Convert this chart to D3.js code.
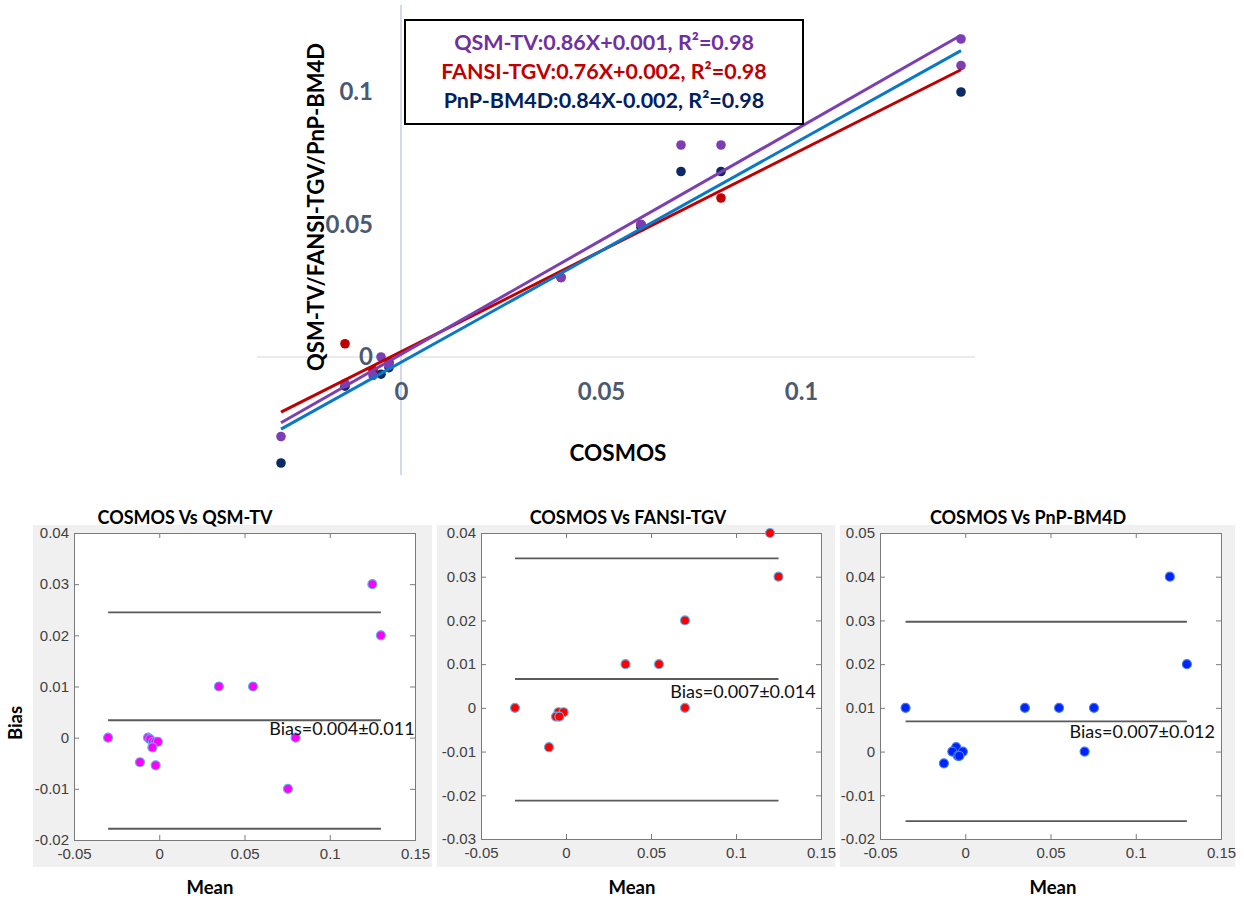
<!DOCTYPE html>
<html>
<head>
<meta charset="utf-8">
<script src="https://cdn.jsdelivr.net/npm/d3@7"></script>
<style>
  body { margin: 0; background: #fff; }
  text { font-family: Lato, "Open Sans", sans-serif; }
  .tick text { font-family: "Liberation Sans", Arial, sans-serif; }
</style>
</head>
<body>
<div id="container"></div>
<script>
/* regressão: métodos, declives, interceptos */
const methods = ["QSM-TV", "FANSI-TGV", "PnP-BM4D"]
const slopes = [0.86, 0.76, 0.84]
const intercepts = [0.001, 0.002, -0.002]
const r2 = [0.98, 0.98, 0.98]
const legendLabels = [
  "QSM-TV:0.86X+0.001, R\u00b2=0.98",
  "FANSI-TGV:0.76X+0.002,  R\u00b2=0.98",
  "PnP-BM4D:0.84X-0.002, R\u00b2=0.98"
]
const fitRange = [-0.03, 0.14]

// pontos do gráfico de cima (COSMOS vs método)
const qsmX = [-0.03, -0.014, -0.007, -0.005, -0.003, 0.04, 0.06, 0.07, 0.08, 0.14, 0.14]
const qsmY = [-0.03, -0.01, -0.007, 0.0, -0.003, 0.03, 0.05, 0.08, 0.08, 0.12, 0.11]
const fansiX = [-0.014, -0.007, -0.003, 0.04, 0.06, 0.08]
const fansiY = [0.005, -0.005, -0.002, 0.03, 0.05, 0.06]
const pnpX = [-0.03, -0.014, -0.005, -0.003, 0.06, 0.07, 0.08, 0.14]
const pnpY = [-0.04, -0.011, -0.0065, -0.004, 0.049, 0.07, 0.07, 0.10]

const topTicks = [0, 0.05, 0.1]

/* Bland-Altman */
const baTitles = ["COSMOS Vs QSM-TV", "COSMOS Vs FANSI-TGV", "COSMOS Vs PnP-BM4D"]
const baText = ["Bias=0.004\u00b10.011", "Bias=0.007\u00b10.014", "Bias=0.007\u00b10.012"]
const baYDomains = [[-0.02, 0.04], [-0.03, 0.04], [-0.02, 0.05]]
const baXDomain = [-0.05, 0.15]
const baXTicks = [-0.05, 0, 0.05, 0.1, 0.15]
const baMean = [0.0034, 0.0066, 0.0069]
const baUpper = [0.0245, 0.0342, 0.0297]
const baLower = [-0.0178, -0.0212, -0.0159]
const baLineX = [[-0.03, 0.13], [-0.03, 0.125], [-0.035, 0.13]]
const baTextPos = [[0.0645, 0.0006], [0.0613, 0.0022], [0.0612, 0.0031]]

const qsmMean = [-0.03, -0.0066, -0.0054, -0.0037, -0.0021, -0.0008, -0.004, -0.0113, -0.0021, 0.035, 0.055, 0.0755, 0.08, 0.125, 0.13]
const qsmDiff = [0, 0, -0.0003, -0.0008, -0.0008, -0.0008, -0.0019, -0.0048, -0.0054, 0.01, 0.01, -0.01, 0, 0.03, 0.02]
const fansiMean = [-0.03, -0.01, -0.0044, -0.0014, -0.0059, -0.0039, 0.035, 0.0547, 0.07, 0.07, 0.12, 0.125]
const fansiDiff = [0, -0.009, -0.001, -0.001, -0.002, -0.002, 0.01, 0.01, 0.02, 0, 0.04, 0.03]
const pnpMean = [-0.035, -0.0125, -0.0053, -0.0076, -0.0014, -0.0043, -0.0035, 0.035, 0.055, 0.0755, 0.07, 0.12, 0.13]
const pnpDiff = [0.01, -0.0027, 0.001, 0, 0, -0.001, -0.001, 0.01, 0.01, 0.01, 0, 0.04, 0.02]

const width = 1244
const height = 903

const lineColors = ["#7b3fb3", "#c00000", "#0a78c8"]
const dotColors = ["#7b3fb3", "#c00000", "#0b2a66"]
const textColors = ["#7030a0", "#c00000", "#002060"]
const baFill = ["#ff00ff", "#ff0000", "#0022ff"]
const baStroke = ["#5ab0e8", "#5ab0e8", "#3f7fe0"]

const svg = d3.create("svg")
  .attr("width", width)
  .attr("height", height)
  .attr("viewBox", [0, 0, width, height])
  .style("background", "#fff")

// ---------- gráfico de cima ----------
const x = d3.scaleLinear().domain([0, 0.1]).range([401, 801])
const y = d3.scaleLinear().domain([0, 0.1]).range([357, 92])

const topG = svg.append("g")

topG.append("line")
  .attr("x1", 257).attr("x2", 975)
  .attr("y1", y(0)).attr("y2", y(0))
  .attr("stroke", "#e3e3e3").attr("stroke-width", 1.5)
topG.append("line")
  .attr("x1", x(0)).attr("x2", x(0))
  .attr("y1", 5).attr("y2", 475)
  .attr("stroke", "#c3cce0").attr("stroke-width", 1.5)

const topY = topG.append("g")
  .attr("transform", `translate(${x(0)},0)`)
  .call(d3.axisLeft(y).tickValues(topTicks).tickSize(0).tickPadding(28).tickFormat(d => d === 0 ? "0" : String(d)))
topY.select(".domain").remove()

const topX = topG.append("g")
  .attr("transform", `translate(0,${y(0)})`)
  .call(d3.axisBottom(x).tickValues(topTicks).tickSize(0).tickPadding(26).tickFormat(d => d === 0 ? "0" : String(d)))
topX.select(".domain").remove()

topG.selectAll(".tick text")
  .style("font-family", "Lato, sans-serif")
  .attr("font-weight", "bold")
  .attr("font-size", 24)
  .attr("fill", "#4a5a72")

// pontos
const series = [
  { xs: fansiX, ys: fansiY, c: dotColors[1] },
  { xs: pnpX, ys: pnpY, c: dotColors[2] },
  { xs: qsmX, ys: qsmY, c: dotColors[0] }
]
series.forEach(s => {
  topG.append("g")
    .selectAll("circle")
    .data(s.xs.map((v, i) => [v, s.ys[i]]))
    .join("circle")
    .attr("cx", d => x(d[0]))
    .attr("cy", d => y(d[1]))
    .attr("r", 4.8)
    .attr("fill", s.c)
})

// rectas de regressão
const fitOrder = [1, 2, 0]
fitOrder.forEach(i => {
  topG.append("line")
    .attr("x1", x(fitRange[0])).attr("y1", y(slopes[i] * fitRange[0] + intercepts[i]))
    .attr("x2", x(fitRange[1])).attr("y2", y(slopes[i] * fitRange[1] + intercepts[i]))
    .attr("stroke", lineColors[i])
    .attr("stroke-width", 3)
})

// legenda
topG.append("rect")
  .attr("x", 405).attr("y", 20)
  .attr("width", 398).attr("height", 104)
  .attr("fill", "#fff")
  .attr("stroke", "#000")
  .attr("stroke-width", 2)

topG.append("g")
  .selectAll("text")
  .data(legendLabels)
  .join("text")
  .attr("x", 604)
  .attr("y", (d, i) => 44 + i * 29)
  .attr("text-anchor", "middle")
  .attr("dominant-baseline", "middle")
  .attr("font-weight", "bold")
  .attr("font-size", 21.5)
  .attr("fill", (d, i) => textColors[i])
  .text(d => d)

topG.append("text")
  .attr("transform", "translate(318,207) rotate(-90)")
  .attr("text-anchor", "middle")
  .attr("dominant-baseline", "middle")
  .attr("font-weight", "bold")
  .attr("font-size", 22)
  .text(methods.join("/"))

topG.append("text")
  .attr("x", 618).attr("y", 455)
  .attr("text-anchor", "middle")
  .attr("dominant-baseline", "middle")
  .attr("font-weight", "bold")
  .attr("font-size", 22.5)
  .text("COSMOS")

// ---------- Bland-Altman ----------
const panels = [
  { bg: [33, 525, 399, 342], plot: [74, 533, 341, 307], title: 185, mean: 210, xs: qsmMean, ys: qsmDiff },
  { bg: [437, 525, 398, 342], plot: [481, 533, 340, 306], title: 628, mean: 632, xs: fansiMean, ys: fansiDiff },
  { bg: [840, 525, 395, 342], plot: [880, 533, 341, 306], title: 1028, mean: 1053, xs: pnpMean, ys: pnpDiff }
]

const fmt = d => d === 0 ? "0" : String(+d.toFixed(2))

panels.forEach((p, k) => {
  const g = svg.append("g")
  const [px, py, pw, ph] = p.plot

  g.append("rect")
    .attr("x", p.bg[0]).attr("y", p.bg[1])
    .attr("width", p.bg[2]).attr("height", p.bg[3])
    .attr("fill", "#f0f0f0")
  g.append("rect")
    .attr("x", px).attr("y", py)
    .attr("width", pw).attr("height", ph)
    .attr("fill", "#fff")

  const bx = d3.scaleLinear().domain(baXDomain).range([px, px + pw])
  const by = d3.scaleLinear().domain(baYDomains[k]).range([py + ph, py])
  const yTicks = d3.range(baYDomains[k][0], baYDomains[k][1] + 0.005, 0.01).map(v => +v.toFixed(2))

  const axes = [
    g.append("g").attr("transform", `translate(0,${py + ph})`)
      .call(d3.axisBottom(bx).tickValues(baXTicks).tickSize(-5).tickPadding(8).tickFormat(fmt)),
    g.append("g").attr("transform", `translate(${px},0)`)
      .call(d3.axisLeft(by).tickValues(yTicks).tickSize(-5).tickPadding(5).tickFormat(fmt)),
    g.append("g").attr("transform", `translate(0,${py})`)
      .call(d3.axisTop(bx).tickValues(baXTicks).tickSize(-5).tickFormat("")),
    g.append("g").attr("transform", `translate(${px + pw},0)`)
      .call(d3.axisRight(by).tickValues(yTicks).tickSize(-5).tickFormat(""))
  ]
  axes.forEach(a => {
    a.select(".domain").attr("stroke", "#7a7a7a")
    a.selectAll(".tick line").attr("stroke", "#7a7a7a")
    a.selectAll(".tick text").attr("font-size", 15).attr("fill", "#404040")
  })

  // linhas de média e limites
  g.append("g")
    .selectAll("line")
    .data([baUpper[k], baMean[k], baLower[k]])
    .join("line")
    .attr("x1", bx(baLineX[k][0])).attr("x2", bx(baLineX[k][1]))
    .attr("y1", d => by(d)).attr("y2", d => by(d))
    .attr("stroke", "#5a5a5a")
    .attr("stroke-width", 1.8)

  g.append("g")
    .selectAll("circle")
    .data(p.xs.map((v, i) => [v, p.ys[i]]))
    .join("circle")
    .attr("cx", d => bx(d[0]))
    .attr("cy", d => by(d[1]))
    .attr("r", 4.5)
    .attr("fill", baFill[k])
    .attr("stroke", baStroke[k])
    .attr("stroke-width", 1.2)

  g.append("text")
    .attr("x", bx(baTextPos[k][0]))
    .attr("y", by(baTextPos[k][1]))
    .attr("font-size", 18)
    .attr("fill", "#111")
    .text(baText[k])

  g.append("text")
    .attr("x", p.title)
    .attr("y", 519)
    .attr("text-anchor", "middle")
    .attr("dominant-baseline", "middle")
    .attr("font-weight", "bold")
    .attr("font-size", 18)
    .text(baTitles[k])

  g.append("text")
    .attr("x", p.mean)
    .attr("y", 889)
    .attr("text-anchor", "middle")
    .attr("dominant-baseline", "middle")
    .attr("font-weight", "bold")
    .attr("font-size", 18.5)
    .text("Mean")
})

svg.append("text")
  .attr("transform", "translate(17,723) rotate(-90)")
  .attr("text-anchor", "middle")
  .attr("dominant-baseline", "middle")
  .attr("font-weight", "bold")
  .attr("font-size", 18.5)
  .text("Bias")

container.append(svg.node())
</script>
</body>
</html>
